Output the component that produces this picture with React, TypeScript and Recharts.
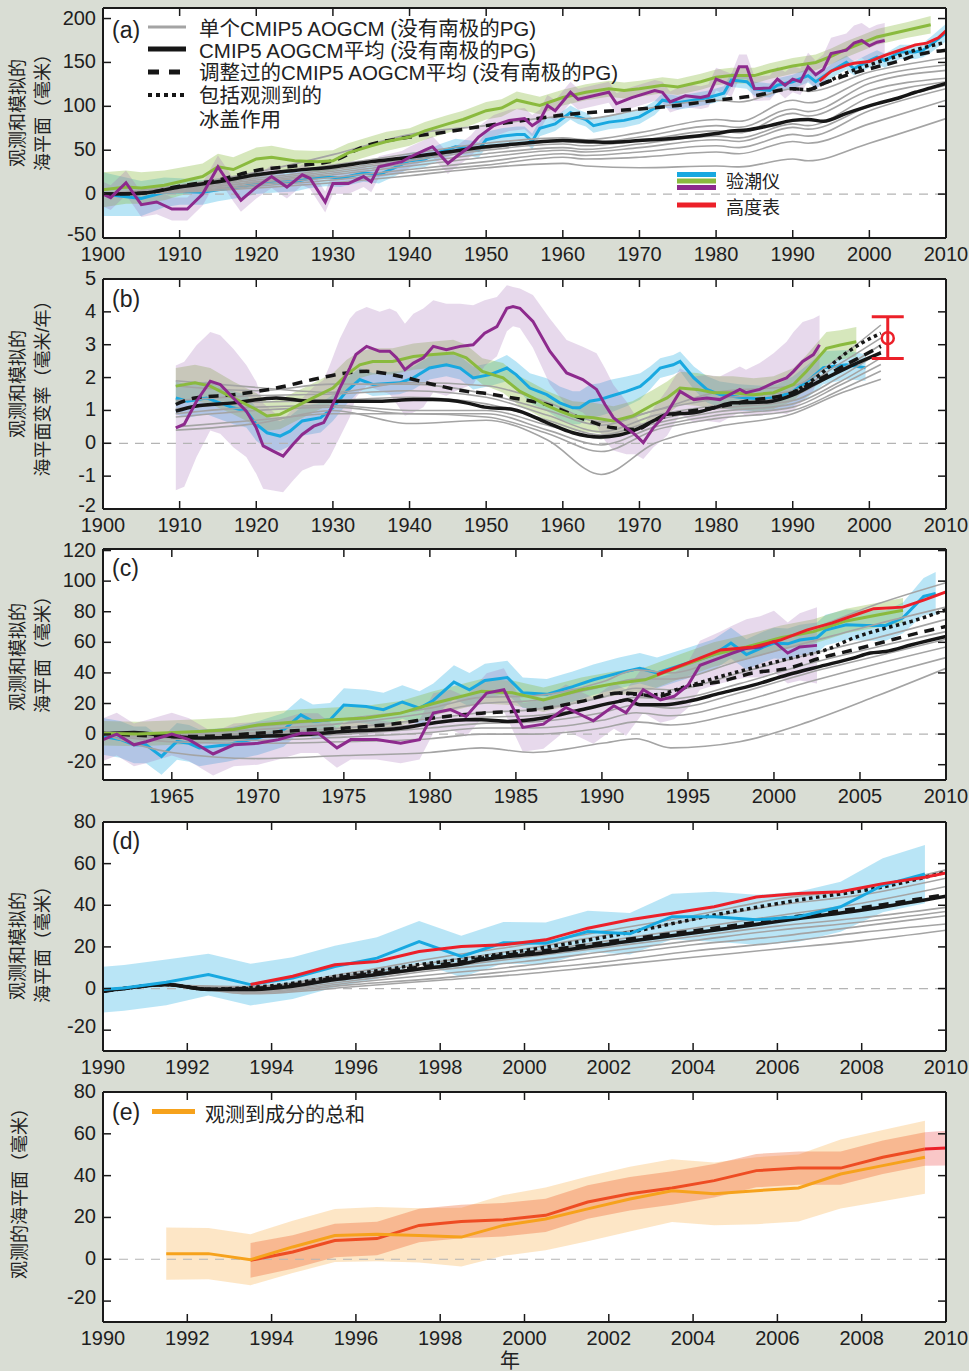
import React from "react";
import {
  ComposedChart,
  Line,
  Area,
  XAxis,
  YAxis,
  CartesianGrid,
  ReferenceLine,
  ErrorBar,
} from "recharts";

const BG = "#d9ddd4";
const FONT = '"Liberation Sans", Arial, "Noto Sans CJK SC", sans-serif';
const GRAY = "#a4a4a4";
const BLACK = "#161616";
const BLUE = "#18a8e0";
const GREEN = "#8aba3e";
const PURPLE = "#8d2a8d";
const RED = "#ec2029";
const ORANGE = "#f6a21c";
const VERMILION = "#ee4c23";
const BLUE_BAND = "rgba(24,168,224,0.3)";
const GREEN_BAND = "rgba(138,186,62,0.35)";
const PURPLE_BAND = "rgba(160,105,180,0.25)";
const ORANGE_BAND = "rgba(250,196,120,0.42)";
const VERMILION_BAND = "rgba(240,110,60,0.38)";
const RED_BAND = "rgba(236,70,70,0.3)";

// ---- (a) sea level 1900-2010, mm ----
const aXTicks = [1900, 1910, 1920, 1930, 1940, 1950, 1960, 1970, 1980, 1990, 2000, 2010];
const aYTicks = [-50, 0, 50, 100, 150, 200];
const aGrayYears = [1900, 1910, 1920, 1930, 1940, 1950, 1960, 1963, 1970, 1980, 1983, 1990, 1992, 2000, 2010];
const aGray = [
  [0, 10, 25, 45, 68, 78, 88, 86, 96, 107, 105, 120, 117, 139, 155],
  [0, 8, 20, 33, 46, 58, 64, 62, 70, 85, 83, 107, 104, 132, 147],
  [0, 7, 18, 28, 40, 52, 60, 58, 65, 78, 76, 97, 94, 126, 141],
  [0, 6, 16, 26, 38, 50, 57, 55, 61, 72, 70, 92, 89, 118, 132],
  [0, 5, 14, 24, 35, 46, 53, 51, 57, 66, 64, 80, 78, 110, 128],
  [0, 5, 13, 22, 32, 42, 50, 48, 53, 62, 60, 76, 74, 100, 124],
  [0, 4, 11, 19, 28, 37, 46, 44, 48, 55, 53, 68, 66, 95, 120],
  [0, 3, 9, 16, 25, 33, 42, 40, 42, 48, 46, 60, 58, 80, 107],
  [0, 2, 7, 13, 21, 30, 35, 32, 30, 32, 31, 40, 38, 58, 86],
];
const aMean = [[1900,0],[1905,1],[1910,8],[1915,14],[1920,22],[1925,27],[1930,31],[1935,37],[1940,42],[1945,48],[1950,54],[1955,58],[1960,61],[1963,60],[1966,59],[1970,61],[1975,64],[1980,69],[1982,72],[1984,73],[1987,78],[1990,84],[1992,85],[1994,83],[1997,92],[2001,103],[2004,110],[2006,116],[2008,121],[2010,126]];
const aAdjusted = [[1900,0],[1905,1],[1910,9],[1915,16],[1920,27],[1925,32],[1930,38],[1934,54],[1940,65],[1945,71],[1950,78],[1955,84],[1960,90],[1965,94],[1970,97],[1975,101],[1980,107],[1985,112],[1990,120],[1992,119],[1994,126],[1998,138],[2001,145],[2004,152],[2006,158],[2010,164]];
const aIce = [[1990,120],[1992,119],[1994,126],[1997,138],[2001,150],[2004,158],[2006,164],[2010,173]];
const aAltimeter = [[1993.5,129],[1995,140],[1997,147],[1998,149],[2000,151],[2002,158],[2004,164],[2006,170],[2007.5,172],[2009,178],[2010,186]];
const aBlue = [[1900,0,25],[1903,-3,22],[1905,-5,20],[1908,2,17],[1910,3,15],[1913,2,14],[1915,5,13],[1918,8,12],[1920,12,12],[1923,14,12],[1925,14,11],[1927,18,11],[1929,20,11],[1931,18,10],[1934,24,10],[1936,22,10],[1938,30,10],[1940,38,9],[1942,40,9],[1944,48,9],[1946,54,9],[1948,52,9],[1949,50,9],[1950,62,9],[1952,66,9],[1954,68,9],[1955,68,9],[1956,60,9],[1957,75,9],[1959,80,8],[1961,93,8],[1962,88,8],[1963,85,8],[1964,78,8],[1966,82,8],[1968,84,8],[1970,88,8],[1972,98,8],[1973,107,8],[1975,104,8],[1977,107,8],[1979,110,8],[1981,115,8],[1982,130,8],[1984,128,8],[1985,120,8],[1987,118,8],[1988,124,8],[1990,128,8],[1992,135,8],[1993,128,8],[1995,140,8],[1997,150,8],[1998,143,8],[2000,152,8],[2001,156,8],[2002,152,8],[2004,162,8],[2006,162,8],[2007,164,8],[2008,170,9],[2010,184,10]];
const aGreen = [[1900,5,20],[1903,8,19],[1905,7,18],[1908,10,17],[1910,14,16],[1913,20,15],[1915,31,15],[1917,28,14],[1920,40,13],[1922,42,13],[1925,38,12],[1928,37,12],[1930,38,12],[1932,47,11],[1935,55,11],[1937,60,11],[1940,65,10],[1942,72,10],[1945,80,10],[1947,85,10],[1950,95,10],[1952,98,10],[1954,107,10],[1956,103,10],[1957,101,10],[1960,110,9],[1963,116,9],[1966,120,9],[1968,118,9],[1970,120,9],[1973,124,9],[1975,122,9],[1978,128,9],[1980,133,9],[1982,135,9],[1985,135,9],[1987,140,9],[1990,146,9],[1993,150,9],[1995,157,9],[1997,165,9],[1999,172,9],[2001,179,9],[2003,183,9],[2005,187,9],[2008,193,10]];
const aPurple = [[1900,0,14],[1901,-4,14],[1903,13,14],[1905,-12,14],[1907,-9,14],[1909,-17,13],[1911,-17,13],[1913,0,13],[1915,31,13],[1917,5,13],[1918,-7,13],[1920,8,13],[1922,20,13],[1924,8,13],[1926,22,12],[1927,18,12],[1929,-9,12],[1930,12,12],[1932,12,12],[1934,20,12],[1935,14,12],[1936,31,12],[1939,37,12],[1940,42,12],[1942,50,12],[1943,54,12],[1945,35,12],[1946,42,12],[1948,55,12],[1949,65,12],[1951,78,12],[1953,84,12],[1955,86,12],[1956,78,12],[1957,84,12],[1958,101,12],[1959,95,12],[1961,116,12],[1962,108,12],[1964,112,12],[1966,116,12],[1967,103,12],[1969,110,12],[1972,118,12],[1973,116,12],[1974,105,12],[1976,112,13],[1978,110,13],[1979,112,13],[1980,131,13],[1982,124,13],[1983,145,14],[1984,145,14],[1985,120,14],[1987,121,14],[1988,131,14],[1989,124,15],[1990,131,15],[1991,128,15],[1992,145,16],[1993,136,16],[1994,142,17],[1995,160,18],[1997,164,19],[1998,172,20],[1999,175,20],[2000,169,20],[2001,173,20],[2002,175,20]];

// ---- (b) rate of sea level change, mm/yr ----
const bYTicks = [-2, -1, 0, 1, 2, 3, 4, 5];
const bGrayYears = [1909.5, 1920, 1930, 1940, 1950, 1958, 1965, 1972, 1980, 1990, 1996, 2001.5];
const bGray = [
  [1.9, 1.7, 1.55, 1.85, 1.75, 1.25, 0.65, 1.0, 1.55, 1.75, 2.6, 3.6],
  [1.75, 1.6, 1.8, 1.8, 1.5, 1.0, 0.55, 1.0, 1.35, 1.6, 2.4, 3.2],
  [1.3, 1.45, 1.5, 1.6, 1.4, 0.85, 0.35, 0.85, 1.15, 1.45, 2.2, 3.0],
  [1.05, 1.25, 1.3, 1.4, 1.2, 0.7, 0.25, 0.7, 1.05, 1.3, 2.0, 2.8],
  [0.9, 1.1, 1.15, 1.0, 1.0, 0.55, 0.15, 0.6, 0.95, 1.2, 1.85, 2.6],
  [0.8, 1.0, 1.1, 0.9, 0.9, 0.4, -0.05, 0.5, 0.85, 1.1, 1.75, 2.4],
  [0.5, 0.7, 0.9, 0.9, 0.8, 0.3, -0.25, 0.4, 0.75, 1.0, 1.6, 2.2],
  [0.4, 0.6, 1.0, 0.6, 0.7, 0.1, -0.95, 0.0, 0.5, 0.9, 1.5, 1.95],
];
const bMean = [[1909.5,0.98],[1912,1.13],[1917,1.23],[1922.6,1.38],[1927,1.28],[1930,1.28],[1936,1.28],[1940.5,1.33],[1943,1.33],[1947.4,1.23],[1949.8,1.1],[1953.5,1.03],[1957.9,0.63],[1961.3,0.32],[1964.8,0.19],[1967.4,0.25],[1969.6,0.42],[1971.8,0.68],[1973.6,0.88],[1977.1,0.93],[1979.7,1.08],[1982.2,1.23],[1986.6,1.26],[1990.1,1.48],[1992.7,1.79],[1997,2.29],[2001.5,2.75]];
const bAdjusted = [[1909.5,1.18],[1912,1.38],[1917,1.48],[1922.6,1.68],[1927.4,1.94],[1931.8,2.14],[1934.4,2.19],[1938.7,2.04],[1943.1,1.79],[1947.4,1.58],[1949.2,1.54],[1953.5,1.38],[1957.9,1.18],[1962.2,0.78],[1966.6,0.47],[1969.6,0.42],[1971.8,0.68],[1975.3,0.93],[1979.7,1.08],[1983.9,1.28],[1990.1,1.55],[1992.7,1.85],[1997,2.4],[2001.5,2.95]];
const bIce = [[1990.1,1.55],[1992.7,1.94],[1997,2.75],[1999,3.05],[2001.5,3.35]];
const bAltimeterRate = [{ year: 2002.4, v: 3.2, err: [0.62, 0.65] }];
const bBlue = [[1909.5,1.38,0.5],[1911,1.28,0.5],[1913.5,1.38,0.5],[1917,1.08,0.5],[1918.7,0.98,0.5],[1920,0.58,0.5],[1921.4,0.32,0.5],[1923.1,0.22,0.45],[1924.4,0.37,0.45],[1926,0.68,0.45],[1928.4,0.78,0.45],[1930,1.08,0.4],[1931.8,1.59,0.4],[1933.5,1.94,0.35],[1935.2,1.79,0.35],[1938.7,1.84,0.35],[1940.5,1.99,0.35],[1942.6,2.29,0.35],[1944.8,2.39,0.35],[1946.6,2.29,0.35],[1948.3,1.99,0.35],[1950.5,2.09,0.35],[1952.7,2.29,0.4],[1953.9,2.09,0.4],[1955.7,1.68,0.45],[1957.9,1.48,0.5],[1959.6,1.23,0.5],[1961.3,1.08,0.5],[1962.2,1.08,0.5],[1963.5,1.28,0.5],[1964.8,1.33,0.5],[1966.2,1.43,0.5],[1968.3,1.58,0.45],[1970.1,1.73,0.4],[1971.4,1.99,0.35],[1972.7,2.29,0.3],[1974.4,2.39,0.3],[1975.3,2.49,0.3],[1977.1,1.99,0.35],[1978.8,1.64,0.4],[1980.5,1.48,0.4],[1983,1.4,0.4],[1986,1.35,0.4],[1988,1.4,0.4],[1990,1.58,0.45],[1992,1.9,0.5],[1994,2.3,0.5],[1997,2.39,0.45],[1999.5,2.3,0.4]];
const bGreen = [[1909.5,1.74,0.55],[1912,1.84,0.55],[1914,1.74,0.55],[1917,1.38,0.5],[1920,1.03,0.5],[1921.4,0.83,0.45],[1923.1,0.88,0.45],[1924.8,1.08,0.45],[1927.4,1.38,0.45],[1930,1.68,0.45],[1931.8,2.09,0.45],[1933.5,2.39,0.4],[1935.2,2.49,0.4],[1937.8,2.49,0.4],[1940.5,2.64,0.4],[1943.1,2.7,0.4],[1945.7,2.75,0.4],[1947.4,2.6,0.4],[1949.5,2.19,0.4],[1952.2,1.99,0.45],[1954.4,1.58,0.45],[1956.1,1.38,0.45],[1957.9,1.15,0.45],[1959.6,0.98,0.45],[1961.3,0.83,0.45],[1964,0.78,0.45],[1966.6,0.68,0.45],[1969.1,0.83,0.45],[1971.8,1.18,0.45],[1973.6,1.38,0.5],[1975.3,1.68,0.5],[1977.5,1.64,0.5],[1979.7,1.54,0.5],[1982.2,1.54,0.5],[1984.9,1.48,0.5],[1987.5,1.54,0.5],[1990.1,1.79,0.5],[1991.8,2.19,0.5],[1994.4,2.89,0.5],[1996.2,2.99,0.45],[1998.3,3.09,0.45]];
const bPurple = [[1909.5,0.47,1.9],[1910.6,0.58,1.9],[1912.2,1.28,1.7],[1914,1.89,1.5],[1915.3,1.79,1.5],[1917,1.38,1.5],[1918.7,0.98,1.4],[1920,0.47,1.4],[1920.9,-0.08,1.3],[1922.2,-0.24,1.2],[1923.5,-0.39,1.1],[1924.8,-0.03,1.1],[1926,0.27,1.1],[1927.5,0.52,1.2],[1928.8,0.63,1.3],[1929.6,0.98,1.4],[1930.9,1.68,1.5],[1932.2,2.29,1.5],[1933,2.7,1.3],[1934.4,2.95,1.2],[1936.1,2.8,1.2],[1937.4,2.8,1.3],[1938.3,2.6,1.4],[1939.4,2.24,1.4],[1940.5,2.44,1.5],[1941.8,2.6,1.5],[1943.1,2.95,1.4],[1944.8,2.85,1.4],[1946.6,2.95,1.3],[1948.3,3.0,1.2],[1949.8,3.35,1.0],[1951.4,3.55,0.9],[1952.7,4.11,0.7],[1953.5,4.16,0.6],[1954.4,4.11,0.6],[1956.1,3.71,0.8],[1958.3,2.8,1.0],[1960.5,2.14,1.0],[1962.6,1.94,1.0],[1964.4,1.64,1.1],[1965.5,1.18,1.1],[1966.6,0.78,1.0],[1968.3,0.47,0.8],[1969.4,0.27,0.6],[1970.5,0.02,0.5],[1971.8,0.47,0.6],[1973.6,0.93,0.7],[1975.3,1.58,0.7],[1977.1,1.33,0.7],[1978.8,1.38,0.7],[1980.5,1.33,0.7],[1983.1,1.64,0.7],[1983.9,1.54,0.7],[1985.7,1.64,0.8],[1987.5,1.84,0.9],[1989.2,1.99,1.1],[1990.1,2.19,1.2],[1991.3,2.49,1.2],[1992.7,2.7,1.1],[1993.5,3.0,0.9]];

// ---- (c) sea level 1961-2010, mm ----
const cXTicks = [1965, 1970, 1975, 1980, 1985, 1990, 1995, 2000, 2005, 2010];
const cYTicks = [-20, 0, 20, 40, 60, 80, 100, 120];
const cGrayYears = [1961, 1965, 1970, 1975, 1980, 1983, 1986, 1990, 1992, 1994, 1998, 2002, 2006, 2010];
const cGray = [
  [0, 1, 5, 10, 17, 24, 25, 34, 42, 40, 55, 68, 85, 99],
  [0, 0, 3, 7, 14, 20, 22, 31, 36, 36, 48, 60, 72, 83],
  [0, -1, 1, 4, 10, 14, 16, 24, 30, 29, 40, 52, 63, 75],
  [0, -1, 0, 2, 7, 11, 12, 19, 24, 23, 33, 46, 57, 67],
  [0, -2, -2, 0, 4, 7, 8, 14, 19, 17, 27, 40, 51, 62],
  [0, -3, -4, -2, 1, 4, 4, 9, 14, 12, 21, 34, 46, 57],
  [0, -5, -6, -5, -3, 0, 0, 4, 8, 6, 14, 26, 38, 50],
  [0, -12, -16, -14, -12, -9, -12, -6, -3, -9, -5, 8, 25, 43],
];
const cMean = [[1961,0],[1962.8,1],[1965,-1.5],[1966.6,-2.6],[1970,-1.5],[1972.5,-0.4],[1975,1.7],[1978.3,3.9],[1980.2,7.2],[1982.1,9.4],[1983,9.4],[1984.5,8.3],[1986.6,10.5],[1988.8,15.9],[1991,21.4],[1991.5,22.4],[1992.2,19.2],[1993.7,19.2],[1995,21.4],[1996.9,26.8],[1998.8,32],[2000.8,38.8],[2002.7,44.3],[2004.6,49.7],[2005.6,53],[2006.5,54],[2008,58.4],[2010,63.8]];
const cAdjusted = [[1961,0.6],[1965,-1.5],[1966.6,-1.5],[1970,0.6],[1972.5,2.4],[1975,3.9],[1978.3,7.2],[1980.2,10.5],[1983,13.7],[1984.8,14.8],[1986.8,17],[1988.8,21.4],[1991,26.8],[1992.2,26],[1993.2,24.6],[1995,31],[1996.9,34.4],[1998.8,40],[2000.8,43],[2002.7,49.7],[2004.6,55],[2006.5,60.6],[2008,65],[2010,70.4]];
const cIce = [[1991,26.8],[1993,25.7],[1995,31.5],[1997,38],[1999,44],[2001,49.7],[2003,55],[2004.6,62.7],[2006.5,69.3],[2008,73.7],[2010,81.3]];
const cAltimeter = [[1993.2,38.8],[1995,46.5],[1996.9,55],[1998.8,57],[2000.4,61.6],[2001.9,68],[2003.4,72.7],[2005,79],[2005.8,82],[2007.5,83],[2008.7,87.6],[2010,93]];
const cBlue = [[1961,-1.5,12],[1962,-3.5,12],[1962.8,-7,12],[1963.5,-7,12],[1964.4,-14.6,12],[1965.3,-4.8,12],[1966,-6,12],[1966.6,-9,12],[1968.2,-7,11],[1970,-2.6,11],[1971.5,2.8,11],[1972.5,12.6,11],[1973.2,8.3,11],[1974.2,9.4,11],[1975,19,11],[1976.3,18,11],[1977.3,16,11],[1978.4,21,11],[1979.4,17,11],[1980.2,22,11],[1981.4,34,11],[1982.3,29,11],[1983.2,35,11],[1984.5,37,11],[1985.4,27,10],[1986.8,26,10],[1988.3,31,10],[1989.5,35.5,10],[1991,40,10],[1992.2,43,10],[1993.2,40,10],[1995,46.5,10],[1996.5,52,10],[1997.5,59.5,10],[1998.4,52,10],[1999.4,57,10],[2000,59.5,10],[2000.8,59,10],[2001.5,61.5,10],[2002.5,63,10],[2003,68,10],[2004.2,71.5,10],[2005.4,71,10],[2006.5,71,10],[2007.5,76,10],[2008.7,90,12],[2009.4,92,14]];
const cGreen = [[1961,0.6,8],[1963,0,8],[1966.6,1.7,8],[1968.6,3,8],[1970,6,8],[1972.5,8.3,8],[1974.4,9.4,8],[1976.3,10.5,8],[1978.3,13.7,8],[1980.2,20,8],[1983,28,8],[1984.8,27,8],[1986.6,22.4,8],[1988.8,29,8],[1990.7,33,8],[1992.5,35.5,8],[1994.5,44,8],[1996.5,52,8],[1998.4,57,8],[2000.4,63,8],[2002.3,67,8],[2004.2,74,8],[2006.1,78,8],[2007.5,81,8]];
const cPurple = [[1961,-3.6,14],[1961.8,0,14],[1962.8,-7,14],[1963.5,-5,14],[1965,0,14],[1966,-3.6,14],[1967.4,-13,14],[1968.6,-7,14],[1970,-6,14],[1971.2,-3.6,13],[1972.5,0.6,13],[1973.5,0.6,13],[1974.6,-9,13],[1975.4,-3.6,13],[1976.9,-3.6,13],[1978.3,-6,13],[1979.4,-3.6,13],[1980.2,13.7,13],[1981.2,16,13],[1982.1,11.5,13],[1983.3,26.8,13],[1984.3,29,14],[1985.4,4.4,16],[1986.6,6.5,16],[1987.9,17.4,15],[1989.5,8.7,15],[1990.7,18.5,15],[1991.4,14,15],[1992.4,29,15],[1993.4,22.4,15],[1994.2,24.7,15],[1995,32,15],[1995.7,45,16],[1996.9,50,17],[1997.6,53,18],[1998.4,56,19],[1999.2,57,20],[2000,60.6,20],[2000.8,53,20],[2001.5,57,22],[2002.5,58,25]];

// ---- (d) sea level 1990-2010, mm ----
const dXTicks = [1990, 1992, 1994, 1996, 1998, 2000, 2002, 2004, 2006, 2008, 2010];
const dYTicks = [-20, 0, 20, 40, 60, 80];
const dGrayYears = [1990, 1991.5, 1993.5, 1996, 1998, 2000, 2002, 2004, 2006, 2008, 2010];
const dGray = [
  [-1, 1.5, 1, 8, 15, 21, 28, 35, 43, 48, 57],
  [-1, 1.5, 0.5, 7, 13, 19, 26, 33, 40, 45, 53],
  [-1, 1.5, 0, 6, 11, 17, 23, 29, 35, 41, 49],
  [-1, 1.5, -0.5, 5, 10, 15, 20, 25, 30, 34, 39],
  [-1, 1.5, -1, 4, 9, 13, 18, 23, 28, 32, 37],
  [-1, 1.5, -1.5, 3, 7, 11, 16, 21, 25, 30, 35],
  [-1, 1.5, -2, 2, 5, 9, 13, 18, 22, 27, 31],
  [-1, 1.5, -2.5, 1, 4, 7, 11, 15, 19, 23, 28],
];
const dMean = [[1990,-1.3],[1990.5,0],[1991.5,1.9],[1992.5,-0.5],[1993.5,-0.5],[1994.5,1.1],[1995.5,4.3],[1996.5,6.7],[1997.5,9.4],[1998.5,11.8],[1999,13.8],[2000.4,17],[2002.4,22.5],[2004.5,28],[2006.5,33.6],[2008.5,39.2],[2010,44.3]];
const dAdjusted = [[1990,-1.3],[1990.5,0],[1991.5,1.9],[1992.5,-0.3],[1993.5,0],[1994.5,1.8],[1995.5,5],[1996.5,7.5],[1997.5,10.3],[1998.5,12.8],[1999,14.6],[2000.4,18],[2002.4,23.5],[2004.5,29],[2006.5,34.7],[2008.5,40.3],[2010,45.2]];
const dIce = [[1990,-1.3],[1990.5,0],[1991.5,1.9],[1992.5,-0.3],[1993.5,0.5],[1994.5,2.5],[1995.5,5.8],[1996.5,8.5],[1997.5,11.5],[1998.5,14],[2000.4,19.5],[2002.4,26.6],[2004.5,35.3],[2006.5,42.5],[2008.5,48.8],[2010,56]];
const dAltimeter = [[1993.5,1.9],[1994.5,5.9],[1995.5,11.4],[1996.5,13],[1997.5,17.8],[1998.5,20.2],[1999.5,21],[2000.5,23.4],[2001.5,29],[2002.5,33],[2003.5,36.2],[2004.5,39.3],[2005.5,44],[2006.5,45.7],[2007.5,46.5],[2008.5,50.4],[2009.5,53.5],[2010,55.5]];
const dBlue = [[1990,-0.5,11],[1990.5,0.3,11],[1991.5,3,11],[1992.5,6.7,10],[1993.5,1.9,10],[1994.5,5,10],[1995.5,10.6,10],[1996.5,14.6,10],[1997.5,22.5,10],[1998.5,15.4,10],[1999.5,22,10],[2000.5,21.7,10],[2001.5,27.4,10],[2002.5,26.3,10],[2003.5,34.5,11],[2004.5,34.5,12],[2005.5,33,12],[2006.5,34.5,12],[2007.5,39.3,12],[2008.5,49.6,13],[2009.5,55,14]];

// ---- (e) observed sea level and sum of components, mm ----
const eSum = [[1991.5,2.7,12.5],[1992.5,2.7,12.3],[1993.5,-0.2,12.2],[1994.5,5.9,12.5],[1995.5,11.4,12.7],[1996.5,12,13],[1997.5,11.4,13],[1998.5,10.6,14],[1999.5,16.2,14.5],[2000.5,19.3,15],[2001.5,24.1,15.5],[2002.5,28.8,15.5],[2003.5,32.8,15],[2004.5,31.3,15],[2005.5,32.8,16],[2006.5,34.1,16],[2007.5,40.8,16.5],[2008.5,44.8,17],[2009.5,48.8,17.5]];
const eObserved = [[1993.5,-0.5,8.3],[1994.5,3.5,8],[1995.5,9,8],[1996.5,9.9,8],[1997.5,16.2,8],[1998.5,18.1,8],[1999.5,18.9,8],[2000.5,21,8],[2001.5,27.4,8],[2002.5,31.3,8],[2003.5,34.1,8],[2004.5,37.6,8],[2005.5,42.4,8],[2006.5,43.6,8],[2007.5,43.6,8],[2008.5,48.8,8],[2009.5,52.7,8]];
const eObservedTail = [[2009.5,52.7,8],[2010,53.2,8.3]];

type Row = number[];
const series = (rows: Row[]) =>
  rows.map(([year, v, e]) => ({ year, v, band: e === undefined ? null : [v - e, v + e] }));
const gridRows = (years: number[], vals: number[]) => years.map((year, i) => ({ year, v: vals[i] }));

const W = 969;
const PAD = 20; // room above each plot for the top tick label
const MARGIN = { top: PAD - 1, right: 22, bottom: 0, left: 43 };
const AXIS = { stroke: "#1a1a1a", strokeWidth: 2 };
const TICKLINE = { stroke: "#1a1a1a", strokeWidth: 1.5 };
const XTICKTEXT = { fill: "#1e1e1e", fontSize: 20, fontFamily: FONT };
const noLabel = () => <g />;

// left-hand tick labels; the lowest one sits a little above its tick
function yTick(props: any) {
  const { x, y, payload, index } = props;
  return (
    <text x={x} y={y} dy={index === 0 ? -4 : -1} textAnchor="end" dominantBaseline="central"
      fontSize={20} fontFamily={FONT} fill="#1e1e1e">
      {payload.value}
    </text>
  );
}

function frame(xDomain: number[], xTicks: number[], yDomain: number[], yTicks: number[]) {
  return [
    <CartesianGrid key="bg" fill="#ffffff" horizontal={false} vertical={false} />,
    <XAxis key="xb" dataKey="year" type="number" domain={xDomain} ticks={xTicks} allowDataOverflow interval={0}
      height={34} tickSize={-8} tickMargin={17} axisLine={AXIS} tickLine={TICKLINE} tick={XTICKTEXT} />,
    <XAxis key="xt" xAxisId="t" orientation="top" dataKey="year" type="number" domain={xDomain} ticks={xTicks}
      allowDataOverflow interval={0} height={1} tickSize={-8} axisLine={AXIS} tickLine={TICKLINE} tick={noLabel} />,
    <YAxis key="yl" type="number" domain={yDomain} ticks={yTicks} allowDataOverflow interval={0}
      width={60} tickSize={-8} tickMargin={15} axisLine={AXIS} tickLine={TICKLINE} tick={yTick} />,
    <YAxis key="yr" yAxisId="r" orientation="right" type="number" domain={yDomain} ticks={yTicks} allowDataOverflow
      interval={0} width={1} tickSize={-8} axisLine={AXIS} tickLine={TICKLINE} tick={noLabel} />,
    <ReferenceLine key="zero" y={0} stroke="#b4b4b4" strokeWidth={1.2} strokeDasharray="9 7" />,
  ];
}

function band(key: string, rows: Row[], fill: string) {
  return (
    <Area key={key} data={series(rows)} dataKey="band" type="linear" stroke="none" fill={fill}
      fillOpacity={1} isAnimationActive={false} activeDot={false} />
  );
}

function line(key: string, data: { year: number; v: number }[], stroke: string, width: number, dash?: string, smooth = false) {
  return (
    <Line key={key} data={data} dataKey="v" type={smooth ? "monotone" : "linear"} stroke={stroke}
      strokeWidth={width} strokeDasharray={dash} dot={false} activeDot={false} isAnimationActive={false} />
  );
}

function models(prefix: string, years: number[], gray: number[][], mean: Row[], adjusted: Row[], ice: Row[]) {
  return [
    ...gray.map((vals, i) => line(`${prefix}g${i}`, gridRows(years, vals), GRAY, 1.6, undefined, true)),
    line(`${prefix}mean`, series(mean), BLACK, 3.5, undefined, true),
    line(`${prefix}adj`, series(adjusted), BLACK, 3.5, "10 7", true),
    line(`${prefix}ice`, series(ice), BLACK, 3.5, "3.5 3.5", true),
  ];
}

const labelStyle = { fontFamily: FONT, fill: "#222" };

function VTitle({ x, y, text, size = 18 }: { x: number; y: number; text: string; size?: number }) {
  return (
    <text transform={`translate(${x},${y}) rotate(-90)`} textAnchor="middle" dominantBaseline="central"
      fontSize={size} style={labelStyle}>
      {text}
    </text>
  );
}

const chartBox = (plotTop: number) => ({ position: "absolute" as const, left: 0, top: plotTop - PAD });

export default function App() {
  return (
    <div style={{ position: "absolute", left: 0, top: 0, width: W, height: 1371, background: BG, overflow: "hidden" }}>
      <div style={{ position: "absolute", left: 0, top: 0, width: W, height: 1371 }}>
        {/* (a) */}
        <div style={chartBox(8)}>
          <ComposedChart width={W} height={230 + PAD + 34} margin={MARGIN}>
            {frame([1900, 2010], aXTicks, [-50, 212], aYTicks)}
            {band("abb", aBlue, BLUE_BAND)}
            {line("abl", series(aBlue), BLUE, 3)}
            {band("agb", aGreen, GREEN_BAND)}
            {band("apb", aPurple, PURPLE_BAND)}
            {models("a", aGrayYears, aGray, aMean, aAdjusted, aIce)}
            {line("agl", series(aGreen), GREEN, 3)}
            {line("apl", series(aPurple), PURPLE, 3)}
            {line("ared", series(aAltimeter), RED, 3)}
          </ComposedChart>
        </div>

        {/* (b) */}
        <div style={chartBox(279)}>
          <ComposedChart width={W} height={230 + PAD + 34} margin={MARGIN}>
            {frame([1900, 2010], aXTicks, [-2, 5], bYTicks)}
            {band("bbb", bBlue, BLUE_BAND)}
            {line("bbl", series(bBlue), BLUE, 3)}
            {band("bgb", bGreen, GREEN_BAND)}
            {band("bpb", bPurple, PURPLE_BAND)}
            {models("b", bGrayYears, bGray, bMean, bAdjusted, bIce)}
            {line("bgl", series(bGreen), GREEN, 3)}
            {line("bpl", series(bPurple), PURPLE, 3)}
            <Line key="brate" data={bAltimeterRate} dataKey="v" stroke={RED} isAnimationActive={false}
              dot={{ r: 6, fill: "none", stroke: RED, strokeWidth: 2.5 }} activeDot={false}>
              <ErrorBar dataKey="err" direction="y" width={16} stroke={RED} strokeWidth={3} />
            </Line>
          </ComposedChart>
        </div>

        {/* (c) */}
        <div style={chartBox(549)}>
          <ComposedChart width={W} height={231 + PAD + 34} margin={MARGIN}>
            {frame([1961, 2010], cXTicks, [-30, 121], cYTicks)}
            {band("cbb", cBlue, BLUE_BAND)}
            {line("cbl", series(cBlue), BLUE, 3)}
            {band("cgb", cGreen, GREEN_BAND)}
            {band("cpb", cPurple, PURPLE_BAND)}
            {models("c", cGrayYears, cGray, cMean, cAdjusted, cIce)}
            {line("cgl", series(cGreen), GREEN, 3)}
            {line("cpl", series(cPurple), PURPLE, 3)}
            {line("cred", series(cAltimeter), RED, 3)}
          </ComposedChart>
        </div>

        {/* (d) */}
        <div style={chartBox(822)}>
          <ComposedChart width={W} height={229 + PAD + 34} margin={MARGIN}>
            {frame([1990, 2010], dXTicks, [-30, 80], dYTicks)}
            {band("dbb", dBlue, BLUE_BAND)}
            {models("d", dGrayYears, dGray, dMean, dAdjusted, dIce)}
            {line("dbl", series(dBlue), BLUE, 3)}
            {line("dred", series(dAltimeter), RED, 3)}
          </ComposedChart>
        </div>

        {/* (e) */}
        <div style={chartBox(1092)}>
          <ComposedChart width={W} height={230 + PAD + 34} margin={MARGIN}>
            {frame([1990, 2010], dXTicks, [-30, 80], dYTicks)}
            {band("esb", eSum, ORANGE_BAND)}
            {band("eob", eObserved, VERMILION_BAND)}
            {band("etb", eObservedTail, RED_BAND)}
            {line("eol", series(eObserved), VERMILION, 3)}
            {line("etl", series(eObservedTail), RED, 3)}
            {line("esl", series(eSum), ORANGE, 3)}
          </ComposedChart>
        </div>
      </div>

      <svg width={W} height={1371} style={{ position: "absolute", left: 0, top: 0, pointerEvents: "none" }}>
        {/* panel letters */}
        <text x={112} y={38} fontSize={23} style={labelStyle}>(a)</text>
        <text x={112} y={307} fontSize={23} style={labelStyle}>(b)</text>
        <text x={112} y={576} fontSize={23} style={labelStyle}>(c)</text>
        <text x={112} y={849} fontSize={23} style={labelStyle}>(d)</text>
        <text x={112} y={1120} fontSize={23} style={labelStyle}>(e)</text>

        {/* axis titles */}
        <VTitle x={18} y={113} text="观测和模拟的" />
        <VTitle x={43} y={108} text="海平面（毫米）" />
        <VTitle x={18} y={384} text="观测和模拟的" />
        <VTitle x={43} y={384} text="海平面变率（毫米/年）" />
        <VTitle x={18} y={657} text="观测和模拟的" />
        <VTitle x={43} y={650} text="海平面（毫米）" />
        <VTitle x={18} y={946} text="观测和模拟的" />
        <VTitle x={43} y={940} text="海平面（毫米）" />
        <VTitle x={20} y={1189} text="观测的海平面（毫米）" />
        <text x={510} y={1361} textAnchor="middle" dominantBaseline="central" fontSize={20} style={labelStyle}>年</text>

        {/* model legend */}
        <line x1={148} x2={186} y1={27} y2={27} stroke={GRAY} strokeWidth={3} />
        <line x1={148} x2={186} y1={49} y2={49} stroke={BLACK} strokeWidth={5} />
        <line x1={148} x2={186} y1={72} y2={72} stroke={BLACK} strokeWidth={5} strokeDasharray="11 10" />
        <line x1={148} x2={186} y1={95} y2={95} stroke={BLACK} strokeWidth={4} strokeDasharray="4 4" />
        <g fontSize={20.5} style={labelStyle} dominantBaseline="central">
          <text x={199} y={28}>单个CMIP5 AOGCM (没有南极的PG)</text>
          <text x={199} y={50}>CMIP5 AOGCM平均 (没有南极的PG)</text>
          <text x={199} y={72}>调整过的CMIP5 AOGCM平均 (没有南极的PG)</text>
          <text x={199} y={95}>包括观测到的</text>
          <text x={199} y={119}>冰盖作用</text>
        </g>

        {/* observation legend */}
        <line x1={677} x2={716} y1={174.5} y2={174.5} stroke={BLUE} strokeWidth={5} />
        <line x1={677} x2={716} y1={181} y2={181} stroke={GREEN} strokeWidth={5} />
        <line x1={677} x2={716} y1={187.5} y2={187.5} stroke={PURPLE} strokeWidth={5} />
        <line x1={677} x2={716} y1={205} y2={205} stroke={RED} strokeWidth={5} />
        <g fontSize={18} style={labelStyle} dominantBaseline="central">
          <text x={726} y={182}>验潮仪</text>
          <text x={726} y={208}>高度表</text>
        </g>

        {/* (e) legend */}
        <line x1={152} x2={195} y1={1111.5} y2={1111.5} stroke={ORANGE} strokeWidth={5} />
        <text x={205} y={1115} fontSize={20} style={labelStyle} dominantBaseline="central">观测到成分的总和</text>
      </svg>
    </div>
  );
}
